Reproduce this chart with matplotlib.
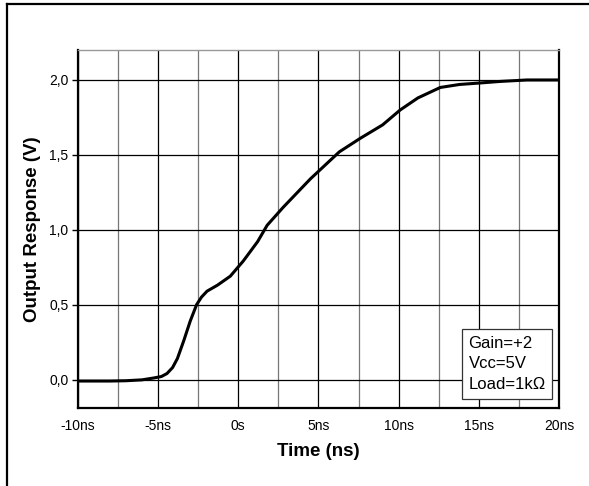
import matplotlib
matplotlib.use("Agg")
import matplotlib.pyplot as plt
from matplotlib.lines import Line2D

plt.rcParams['font.family'] = ['Liberation Sans', 'DejaVu Sans']

# step response
time_ns = [-10, -8, -7, -6, -5.3, -4.8, -4.45, -4.1, -3.8, -3.4, -3.0, -2.6, -2.3, -1.95,
           -1.3, -0.5, 0.3, 1.2, 1.8, 2.8, 4.5, 5.3, 6.3, 7.6, 9.0, 10.1, 11.2, 12.6,
           13.8, 15.1, 16.3, 18.0, 20.0]
volts = [-0.01, -0.01, -0.008, -0.002, 0.01, 0.02, 0.04, 0.08, 0.14, 0.26, 0.39, 0.5, 0.55, 0.59,
         0.63, 0.69, 0.79, 0.92, 1.03, 1.15, 1.34, 1.42, 1.52, 1.61, 1.70, 1.80, 1.88, 1.95,
         1.97, 1.98, 1.99, 2.0, 2.0]

x_ticks = [-10, -5, 0, 5, 10, 15, 20]
x_labels = ['-10ns', '-5ns', '0s', '5ns', '10ns', '15ns', '20ns']
x_minor = [-7.5, -2.5, 2.5, 7.5, 12.5, 17.5]
y_ticks = [0.0, 0.5, 1.0, 1.5, 2.0]
y_labels = ['0,0', '0,5', '1,0', '1,5', '2,0']
note = "Gain=+2\nVcc=5V\nLoad=1k\u03a9"

fig = plt.figure(figsize=(5.89, 4.86), dpi=100)
ax = fig.add_axes([0.1324, 0.1605, 0.8166, 0.7366])

# grid
for xv in x_ticks:
    ax.axvline(xv, color='black', lw=0.9, zorder=1)
for xv in x_minor:
    ax.axvline(xv, color='#777777', lw=0.9, zorder=1)
for yv in y_ticks:
    ax.axhline(yv, color='black', lw=0.9, zorder=1)

ax.plot(time_ns, volts, color='black', lw=2.2, zorder=3, solid_capstyle='round')

ax.set_xlim(-10, 20)
ax.set_ylim(-0.19, 2.2)
ax.set_xticks(x_ticks)
ax.set_xticklabels(x_labels)
ax.set_yticks(y_ticks)
ax.set_yticklabels(y_labels)
ax.tick_params(axis='both', labelsize=10, width=1, color='black')
ax.tick_params(axis='x', length=0, pad=8)
ax.tick_params(axis='y', length=4, direction='out', pad=3)

for s in ['left', 'bottom', 'right']:
    ax.spines[s].set_linewidth(1.6)
ax.spines['top'].set_linewidth(1.0)
ax.spines['top'].set_color('#999999')

ax.set_xlabel('Time (ns)', fontsize=13.5, fontweight='bold', labelpad=7)
ax.set_ylabel('Output Response (V)', fontsize=13.5, fontweight='bold', labelpad=6)

ax.text(0.812, 0.045, note, transform=ax.transAxes, ha='left', va='bottom',
        fontsize=12, linespacing=1.45, zorder=5, multialignment='left',
        bbox=dict(boxstyle='square,pad=0.4', facecolor='white', edgecolor='#333333', lw=0.9))

# outer frame (left and top edges)
fig.add_artist(Line2D([7 / 589, 7 / 589], [0, 1 - 4 / 486], transform=fig.transFigure,
                      color='black', lw=1.6))
fig.add_artist(Line2D([7 / 589, 1], [1 - 4 / 486, 1 - 4 / 486], transform=fig.transFigure,
                      color='black', lw=1.6))

fig.savefig('out.png', dpi=100)
